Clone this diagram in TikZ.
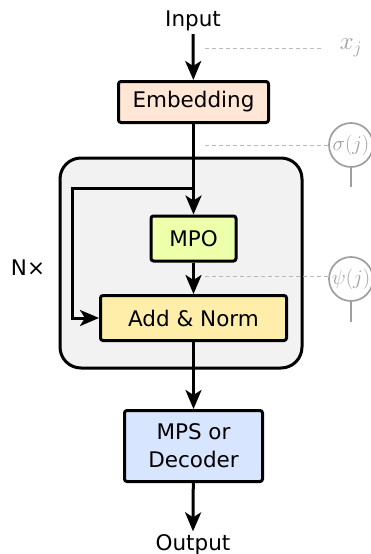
\documentclass[tikz,border=0pt]{standalone}
\usepackage{fontspec}
\setmainfont{DejaVu Sans}
\usetikzlibrary{arrows.meta}

\tikzstyle{layer}=[rectangle,draw,line width=3pt,rounded corners=2.5pt,inner sep=0pt,align=center,font=\fontsize{21.5}{28}\selectfont]
\tikzstyle{label}=[inner sep=2.5pt,font=\fontsize{21.5}{26}\selectfont]
\tikzstyle{arr}=[line width=3pt,-{Stealth[length=19pt,width=16pt,inset=5pt]}]
\tikzstyle{guide}=[gray!55,dash pattern=on 4pt off 3pt,line width=1pt]
\tikzstyle{tensor}=[circle,draw=gray!75,line width=1.7pt,minimum size=44pt,inner sep=0pt,text=gray!75,font=\fontsize{22}{26}\selectfont]

\definecolor{embfill}{HTML}{FFE6D5}
\definecolor{mpofill}{HTML}{EEFFAA}
\definecolor{addfill}{HTML}{FFEEAA}
\definecolor{mpsfill}{HTML}{D7E5FF}
\definecolor{blockfill}{HTML}{F2F2F2}

\begin{document}
\begin{tikzpicture}[x=1pt,y=-1pt]
			\useasboundingbox (0,0) rectangle (371,554);
			% the repeated block
			\draw[line width=3pt,rounded corners=21pt,fill=blockfill] (60,158) rectangle (302,368);
			\node[label,anchor=base] (in) at (193,27) {Input};
			\node[label,anchor=base] (out) at (193,550) {Output};
			\node[label] (n) at (28,268) {N×};
			\node[layer,fill=embfill,minimum width=150pt,minimum height=41pt] (emb) at (193.5,102) {Embedding};
			\node[layer,fill=mpofill,minimum width=85pt,minimum height=45pt] (mpo) at (193.5,238.5) {MPO};
			\node[layer,fill=addfill,minimum width=186pt,minimum height=45pt] (add) at (193.5,318) {Add \& Norm};
			\node[layer,fill=mpsfill,minimum width=138pt,minimum height=71pt] (mps) at (193.5,446) {MPS or\\Decoder};
			\coordinate (split) at (193.5,188);
			\coordinate (loop) at (72,188);
			% the tensors on the right
			\node[label,text=gray!75,font=\fontsize{24}{28}\selectfont] (x) at (351,48) {$x_j$};
			\node[tensor] (sig) at (351,145) {$\sigma(j)$};
			\node[tensor] (psi) at (351,279) {$\psi(j)$};
			\coordinate (sigleg) at (351,187);
			\coordinate (psileg) at (351,322);
			\coordinate (g1) at (205,48);
			\coordinate (g2) at (205,145);
			\coordinate (g3) at (205,276);
			% then the connectors
			\draw[arr] (in.south) -- (emb);
			\draw[arr] (emb) -- (mpo);
			\draw[arr] (split) -- (loop) |- (add);
			\draw[arr] (mpo) -- (add);
			\draw[arr] (add) -- (mps);
			\draw[arr] (mps) -- (out.north);
			\draw[guide] (g1) -- ([xshift=-14pt]x.west);
			\draw[guide] (g2) -- (sig);
			\draw[guide] (g3) -- (g3 -| psi.west);
			\draw[gray!75,line width=1.7pt] (sig) -- (sigleg);
			\draw[gray!75,line width=1.7pt] (psi) -- (psileg);
		\end{tikzpicture}
\end{document}
